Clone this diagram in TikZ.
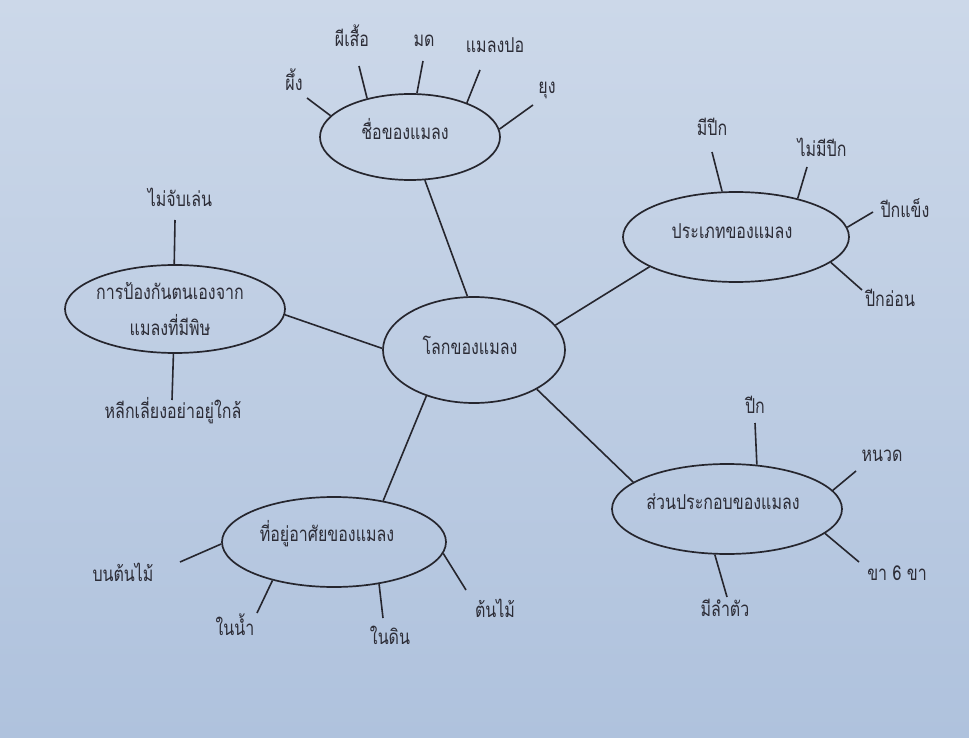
\documentclass[tikz,border=0pt]{standalone}
\usepackage{fontspec}
\newfontfamily\thaifont[Script=Thai,FakeStretch=0.78]{Loma}
\usetikzlibrary{shapes.geometric}
\definecolor{ink}{HTML}{26262E}
\definecolor{txt}{HTML}{2C2C36}
\definecolor{papertop}{HTML}{CCD8E9}
\definecolor{paperbot}{HTML}{AFC2DD}
\tikzset{
  bubble/.style={draw=ink, line width=1.7pt, ellipse, inner sep=0pt},
  lab/.style={text=txt, font=\thaifont\fontsize{20.5}{24}\selectfont, inner sep=0pt, text height=0.8em, text depth=0.2em, align=center},
  spoke/.style={draw=ink, line width=1.6pt},
}
\begin{document}
\begin{tikzpicture}[x=1pt,y=-1pt]
\useasboundingbox (0,0) rectangle (969,738);
\shade[top color=papertop, bottom color=paperbot] (0,0) rectangle (969,738);

% ellipses
\node[bubble, minimum width=182pt, minimum height=106pt] (c) at (474,350) {};
\node[lab] (ct) at (470,351) {โลกของแมลง};

\node[bubble, minimum width=180pt, minimum height=86pt] (a) at (410,137) {};
\node[lab] (at) at (405,137) {ชื่อของแมลง};

\node[bubble, minimum width=226pt, minimum height=90pt] (b) at (736,237) {};
\node[lab] (bt) at (732,235) {ประเภทของแมลง};

\node[bubble, minimum width=220pt, minimum height=88pt] (p) at (175,309) {};
\node[lab] (pt1) at (170,296) {การป้องกันตนเองจาก};
\node[lab] (pt2) at (170,332) {แมลงที่มีพิษ};

\node[bubble, minimum width=230pt, minimum height=90pt] (s) at (727,509) {};
\node[lab] (st) at (723,506) {ส่วนประกอบของแมลง};

\node[bubble, minimum width=224pt, minimum height=90pt] (h) at (334,542) {};
\node[lab] (ht) at (327,538) {ที่อยู่อาศัยของแมลง};

% main connectors
\draw[spoke] (c.97.7) -- (a.-71.6);
\draw[spoke] (c.17) -- (b.199);
\draw[spoke] (c.179) -- (p.-3);
\draw[spoke] (c.-32) -- (s.164.7);
\draw[spoke] (c.224) -- (h.40.6);

% leaves of a
\node[lab] (a1) at (294,88) {ผึ้ง};
\node[lab] (a2) at (352,44) {ผีเสื้อ};
\node[lab] (a3) at (424,44) {มด};
\node[lab] (a4) at (495,50) {แมลงปอ};
\node[lab] (a5) at (547,91) {ยุง};
\coordinate (a1e) at (307,98);
\coordinate (a2e) at (359,66);
\coordinate (a3e) at (423,61);
\coordinate (a4e) at (480,70);
\coordinate (a5e) at (533,105);
\draw[spoke] (a.165.6) -- (a1e);
\draw[spoke] (a.138.6) -- (a2e);
\draw[spoke] (a.81) -- (a3e);
\draw[spoke] (a.31.1) -- (a4e);
\draw[spoke] (a.5) -- (a5e);

% leaves of b
\node[lab] (b1) at (712,133) {มีปีก};
\node[lab] (b2) at (822,154) {ไม่มีปีก};
\node[lab] (b3) at (905,215) {ปีกแข็ง};
\node[lab] (b4) at (890,303) {ปีกอ่อน};
\coordinate (b1e) at (712,152);
\coordinate (b2e) at (807,167);
\coordinate (b3e) at (873,212);
\coordinate (b4e) at (862,290);
\draw[spoke] (b.107.6) -- (b1e);
\draw[spoke] (b.32.3) -- (b2e);
\draw[spoke] (b.5.7) -- (b3e);
\draw[spoke] (b.-15.5) -- (b4e);

% leaves of p
\node[lab] (p1) at (180,204) {ไม่จับเล่น};
\node[lab] (p2) at (173,415) {หลีกเลี่ยงอย่าอยู่ใกล้};
\coordinate (p1e) at (175,220);
\coordinate (p2e) at (172,400);
\draw[spoke] (p.91) -- (p1e);
\draw[spoke] (p.-92) -- (p2e);

% leaves of s
\node[lab] (s1) at (755,410) {ปีก};
\node[lab] (s2) at (882,458) {หนวด};
\node[lab] (s3) at (897,577) {ขา 6 ขา};
\node[lab] (s4) at (725,613) {มีลำตัว};
\coordinate (s1e) at (755,423);
\coordinate (s2e) at (856,471);
\coordinate (s3e) at (859,562);
\coordinate (s4e) at (727,597);
\draw[spoke] (s.56.6) -- (s1e);
\draw[spoke] (s.10.4) -- (s2e);
\draw[spoke] (s.-14) -- (s3e);
\draw[spoke] (s.-105.8) -- (s4e);

% leaves of h
\node[lab] (h1) at (123,578) {บนต้นไม้};
\node[lab] (h2) at (235,632) {ในน้ำ};
\node[lab] (h3) at (390,641) {ในดิน};
\node[lab] (h4) at (495,614) {ต้นไม้};
\coordinate (h1e) at (180,562);
\coordinate (h2e) at (257,613);
\coordinate (h3e) at (383,618);
\coordinate (h4e) at (466,590);
\draw[spoke] (h.181.5) -- (h1e);
\draw[spoke] (h.212) -- (h2e);
\draw[spoke] (h.-43.7) -- (h3e);
\draw[spoke] (h.-6.3) -- (h4e);
\end{tikzpicture}
\end{document}
